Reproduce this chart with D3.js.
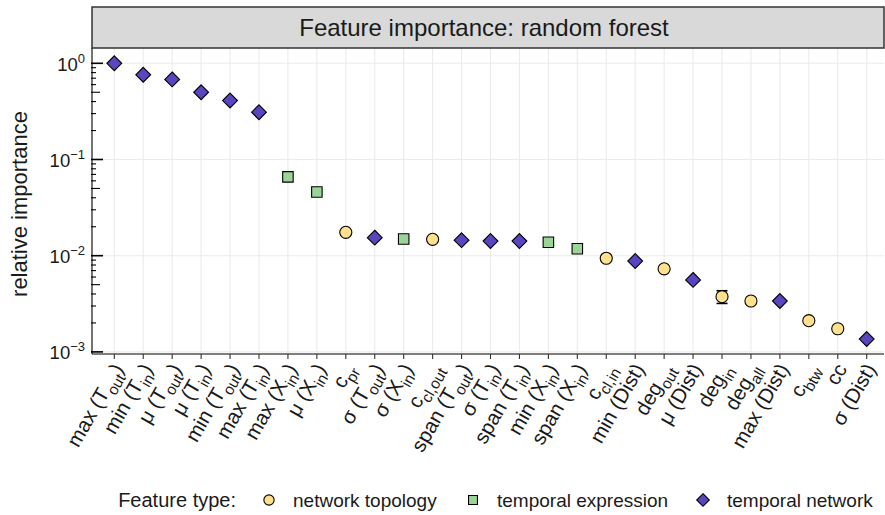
<!DOCTYPE html>
<html>
<head>
<meta charset="utf-8">
<script src="https://cdn.jsdelivr.net/npm/d3@7"></script>
<style>
  body { margin: 0; background: #fff; }
  text { font-family: "Liberation Sans", Arial, Helvetica, sans-serif; fill: #1a1a1a; }
</style>
</head>
<body>
<div class="chart"></div>
<script>
// feature labels, "_{...}" marks a subscript
const features = [
  "max (T_{out})", "min (T_{in})", "μ (T_{out})", "μ (T_{in})", "min (T_{out})",
  "max (T_{in})", "max (X_{in})", "μ (X_{in})", "c_{pr}", "σ (T_{out})",
  "σ (X_{in})", "c_{cl,out}", "span (T_{out})", "σ (T_{in})", "span (T_{in})",
  "min (X_{in})", "span (X_{in})", "c_{cl,in}", "min (Dist)", "deg_{out}",
  "μ (Dist)", "deg_{in}", "deg_{all}", "max (Dist)", "c_{btw}", "cc", "σ (Dist)"
];
const featureTypes = [
  "tn", "tn", "tn", "tn", "tn", "tn", "te", "te", "topo", "tn",
  "te", "topo", "tn", "tn", "tn", "te", "te", "topo", "tn", "topo",
  "tn", "topo", "topo", "tn", "topo", "topo", "tn"
];
const importance = [
  1.0, 0.76, 0.68, 0.50, 0.41, 0.31, 0.066, 0.046, 0.0175, 0.0154,
  0.0149, 0.0148, 0.0145, 0.0142, 0.0142, 0.0138, 0.0118, 0.0094, 0.0088, 0.0073,
  0.0056, 0.00375, 0.00338, 0.00338, 0.00211, 0.00174, 0.00136
];
// error bars (only deg_in sticks out of its marker)
const errLow = [
  null, null, null, null, null, null, null, null, null, null,
  null, null, null, null, null, null, null, null, null, null,
  null, 0.00319, null, null, null, null, null
];
const errHigh = [
  null, null, null, null, null, null, null, null, null, null,
  null, null, null, null, null, null, null, null, null, null,
  null, 0.00432, null, null, null, null, null
];
const typeKeys = ["topo", "te", "tn"];
const typeNames = ["network topology", "temporal expression", "temporal network"];
const typeColors = ["#FFE08C", "#9AD597", "#5B44C0"];
const yDecades = [1e-3, 1e-2, 1e-1, 1];
const yDecadeExps = ["−3", "−2", "−1", "0"];

const width = 885, height = 515;
const panel = { left: 92, right: 884, top: 48, bottom: 354 };

const svg = d3.select(".chart").append("svg")
  .attr("width", width).attr("height", height)
  .attr("viewBox", "0 0 " + width + " " + height);

const xScale = d3.scalePoint()
  .domain(features)
  .range([114.3, 866.7]);

const yScale = d3.scaleLog()
  .domain([Math.pow(10, -3.022), Math.pow(10, 0.159)])
  .range([panel.bottom, panel.top]);

const color = d3.scaleOrdinal().domain(typeKeys).range(typeColors);

// add text with _{sub} parts
function richText(sel, str, size) {
  const parts = str.split(/(_\{[^}]*\})/).filter(p => p.length);
  parts.forEach(p => {
    if (p.startsWith("_{")) {
      sel.append("tspan").attr("font-size", size * 0.75).attr("dy", size * 0.3)
        .text(p.slice(2, -1));
      sel.append("tspan").attr("font-size", size).attr("dy", -size * 0.3).text("\u200b");
    } else {
      sel.append("tspan").attr("font-size", size).text(p);
    }
  });
}

// grid
const grid = svg.append("g");
grid.selectAll(".gx").data(features).enter().append("line")
  .attr("x1", d => xScale(d)).attr("x2", d => xScale(d))
  .attr("y1", panel.top).attr("y2", panel.bottom)
  .attr("stroke", "#EBEBEB").attr("stroke-width", 1.1);
grid.selectAll(".gy").data(yDecades).enter().append("line")
  .attr("x1", panel.left).attr("x2", panel.right)
  .attr("y1", d => yScale(d)).attr("y2", d => yScale(d))
  .attr("stroke", "#EBEBEB").attr("stroke-width", 1.1);

// log ticks inside the panel
const logTicks = [];
for (let e = -3; e <= 0; e++) {
  for (let m = 1; m <= 9; m++) {
    const v = m * Math.pow(10, e);
    if (v <= yScale.domain()[1] && v >= yScale.domain()[0]) logTicks.push({ v: v, m: m });
  }
}
svg.append("g").selectAll("line").data(logTicks).enter().append("line")
  .attr("x1", panel.left - 1)
  .attr("x2", d => panel.left + (d.m === 1 ? 11 : d.m === 5 ? 8 : 4))
  .attr("y1", d => yScale(d.v)).attr("y2", d => yScale(d.v))
  .attr("stroke", "#000").attr("stroke-width", d => d.m === 1 ? 1.6 : 1.1);

// axis lines
svg.append("line").attr("x1", panel.left).attr("x2", panel.left)
  .attr("y1", panel.top).attr("y2", panel.bottom)
  .attr("stroke", "#000").attr("stroke-width", 1.1);
svg.append("line").attr("x1", panel.left).attr("x2", panel.right)
  .attr("y1", panel.bottom).attr("y2", panel.bottom)
  .attr("stroke", "#000").attr("stroke-width", 1.1);

// x ticks and labels
const xAxis = svg.append("g");
xAxis.selectAll("line").data(features).enter().append("line")
  .attr("x1", d => xScale(d)).attr("x2", d => xScale(d))
  .attr("y1", panel.bottom).attr("y2", panel.bottom + 5)
  .attr("stroke", "#333").attr("stroke-width", 1.1);
xAxis.selectAll("text").data(features).enter().append("text")
  .attr("text-anchor", "end")
  .attr("transform", d => "translate(" + (xScale(d) + 5) + "," + (panel.bottom + 12) + ") rotate(-60)")
  .attr("dy", "0.35em")
  .each(function(d) { richText(d3.select(this), d, 20.5); });

// y labels
const yAxis = svg.append("g");
yDecades.forEach((v, i) => {
  const t = yAxis.append("text")
    .attr("x", 85).attr("y", yScale(v)).attr("dy", "0.4em")
    .attr("text-anchor", "end").attr("font-size", 18.5);
  t.append("tspan").text("10");
  t.append("tspan").attr("font-size", 13).attr("dy", -8).text(yDecadeExps[i]);
});

svg.append("text")
  .attr("transform", "translate(27," + ((panel.top + panel.bottom) / 2 + 3) + ") rotate(-90)")
  .attr("text-anchor", "middle").attr("font-size", 22)
  .text("relative importance");

// strip
svg.append("rect").attr("x", panel.left).attr("y", 7)
  .attr("width", panel.right - panel.left).attr("height", panel.top - 7)
  .attr("fill", "#D9D9D9").attr("stroke", "#333").attr("stroke-width", 1.5);
svg.append("text").attr("x", (panel.left + panel.right) / 2 - 4).attr("y", 28)
  .attr("dy", "0.35em").attr("text-anchor", "middle").attr("font-size", 24)
  .text("Feature importance: random forest");

// error bars
const errIdx = d3.range(features.length).filter(i => errLow[i] !== null);
const eb = svg.append("g").attr("stroke", "#000").attr("stroke-width", 1.6);
errIdx.forEach(i => {
  const x = xScale(features[i]);
  eb.append("line").attr("x1", x).attr("x2", x)
    .attr("y1", yScale(errLow[i])).attr("y2", yScale(errHigh[i]));
  [errLow[i], errHigh[i]].forEach(v => {
    eb.append("line").attr("x1", x - 5.5).attr("x2", x + 5.5)
      .attr("y1", yScale(v)).attr("y2", yScale(v));
  });
});

// points
const symbolFor = { topo: d3.symbolCircle, te: d3.symbolSquare, tn: d3.symbolDiamond };
const sizeFor = { topo: 115, te: 110, tn: 105 };
function shape(type, s) {
  if (type === "tn") {
    const r = 7.4 * s;
    return "M0," + (-r) + "L" + r + ",0L0," + r + "L" + (-r) + ",0Z";
  }
  return d3.symbol().type(symbolFor[type]).size(sizeFor[type] * s * s)();
}
svg.append("g").selectAll("path").data(features).enter().append("path")
  .attr("d", (d, i) => shape(featureTypes[i], 1))
  .attr("transform", (d, i) => "translate(" + xScale(d) + "," + yScale(importance[i]) + ")")
  .attr("fill", (d, i) => color(featureTypes[i]))
  .attr("stroke", "#000").attr("stroke-width", 1.1);

// legend
const legY = 500;
const legend = svg.append("g");
legend.append("text").attr("x", 236).attr("y", legY).attr("dy", "0.35em")
  .attr("text-anchor", "end").attr("font-size", 20).text("Feature type:");
const legX = [269, 473, 703];
typeKeys.forEach((k, i) => {
  legend.append("path").attr("d", shape(k, 0.85))
    .attr("transform", "translate(" + legX[i] + "," + legY + ")")
    .attr("fill", color(k)).attr("stroke", "#000").attr("stroke-width", 1.1);
  legend.append("text").attr("x", legX[i] + 24).attr("y", legY).attr("dy", "0.35em")
    .attr("font-size", 19).text(typeNames[i]);
});
</script>
</body>
</html>
